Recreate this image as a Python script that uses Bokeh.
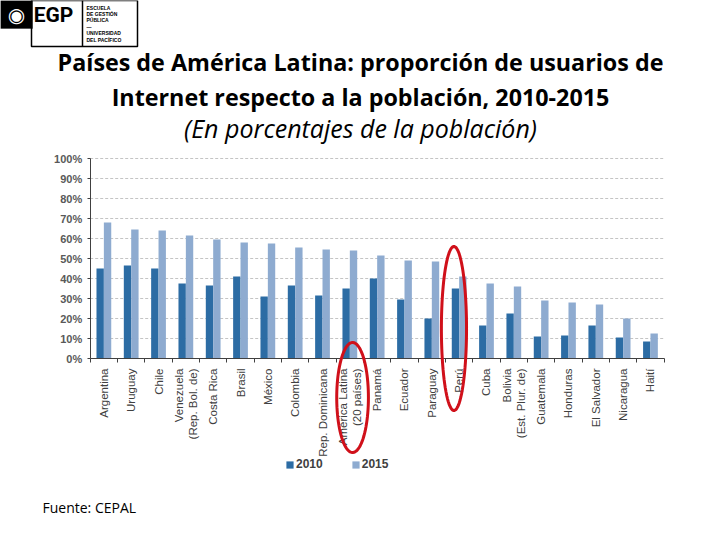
import numpy as np
from bokeh.plotting import figure
from bokeh.models import (Range1d, FixedTicker, PrintfTickFormatter, Label, Legend, LegendItem,
                          BoxAnnotation, PolyAnnotation, ColumnDataSource, LinearAxis)
from bokeh.embed import file_html
from bokeh.resources import INLINE

# ---------------- data ----------------
countries = ["Argentina", "Uruguay", "Chile", "Venezuela\n(Rep. Bol. de)", "Costa Rica", "Brasil",
             "México", "Colombia", "Rep. Dominicana", "América Latina\n(20 países)", "Panamá",
             "Ecuador", "Paraguay", "Perú", "Cuba", "Bolivia\n(Est. Plur. de)", "Guatemala",
             "Honduras", "El Salvador", "Nicaragua", "Haití"]
v2010 = [45, 46.5, 45, 37.5, 36.5, 41, 31, 36.5, 31.5, 35, 40, 29.5, 20, 35, 16.5, 22.5, 11, 11.5, 16.5, 10.5, 8.5]
v2015 = [68, 64.5, 64, 61.5, 59.5, 58, 57.5, 55.5, 54.5, 54, 51.5, 49, 48.5, 41, 37.5, 36, 29, 28, 27, 20, 12.5]
series = ["2010", "2015"]
y_ticks = [0, 10, 20, 30, 40, 50, 60, 70, 80, 90, 100]

title1 = "Países de América Latina: proporción de usuarios de"
title2 = "Internet respecto a la población, 2010-2015"
subtitle = "(En porcentajes de la población)"
source_note = "Fuente: CEPAL"
logo_name = "EGP"
logo_lines = ["ESCUELA", "DE GESTIÓN", "PÚBLICA", "—", "UNIVERSIDAD", "DEL PACÍFICO"]

# highlighted categories (red ellipses): category, y-top, y-bottom (in % units), x shift, half width
highlights = [("América Latina\n(20 países)", 8, -47, 0.1, 0.58),
              ("Perú", 56, -26, -0.19, 0.46)]

C2010 = "#2c6ca4"
C2015 = "#8eabd0"
AXIS = "#404040"
TXT = "#404040"

W, H = 720, 540
n = len(countries)
# layout: chart area on the canvas (pixels)
X0, CAT_W = 89.7, 27.33      # left edge of the plot area, width of one category
Y0, PCT_H = 358.0, 2.0       # baseline (0 %) and pixels per percent
x_range = Range1d(-X0 / CAT_W, (W - X0) / CAT_W)
y_range = Range1d(-(H - Y0) / PCT_H, Y0 / PCT_H)

centers = [i + 0.5 for i in range(n)]
bw = 0.27

p = figure(width=W, height=H, output_backend="svg", toolbar_location=None,
           x_range=x_range, y_range=y_range, x_axis_type=None, y_axis_type=None,
           min_border=0, min_border_left=0, min_border_right=0, min_border_top=0, min_border_bottom=0,
           title=None)
p.outline_line_color = None
p.background_fill_color = "white"
p.border_fill_color = "white"
p.xgrid.visible = False
p.ygrid.visible = False

# dashed horizontal grid lines (from tick list)
grid_y = y_ticks[1:]
p.segment(x0=[0] * len(grid_y), x1=[n] * len(grid_y), y0=grid_y, y1=grid_y,
          line_color="#c4c4c4", line_dash="3 2", line_width=1)

src = ColumnDataSource(dict(x=centers, v2010=v2010, v2015=v2015,
                            x1=[c - bw / 2 for c in centers], x2=[c + bw / 2 for c in centers]))
r1 = p.vbar(x="x1", top="v2010", width=bw, bottom=0, source=src, fill_color=C2010, line_color=None)
r2 = p.vbar(x="x2", top="v2015", width=bw, bottom=0, source=src, fill_color=C2015, line_color=None)

# x axis, fixed at 0 %
xa = LinearAxis(fixed_location=0, bounds=(0, n))
xa.ticker = FixedTicker(ticks=centers, minor_ticks=list(range(n + 1)))
xa.major_label_overrides = {c: lab for c, lab in zip(centers, countries)}
xa.major_label_orientation = np.pi / 2
xa.major_tick_out = 0
xa.major_tick_in = 0
xa.minor_tick_out = 4
xa.minor_tick_in = 0
xa.minor_tick_line_color = AXIS
xa.axis_line_color = AXIS
xa.major_label_standoff = 6
xa.major_label_text_font = "Liberation Sans"
xa.major_label_text_font_size = "11.5px"
xa.major_label_text_color = TXT
p.add_layout(xa, "below")

# y axis, fixed at the first category edge
ya = LinearAxis(fixed_location=0, bounds=(0, 100))
ya.ticker = FixedTicker(ticks=y_ticks)
ya.formatter = PrintfTickFormatter(format="%d%%")
ya.minor_tick_line_color = None
ya.major_tick_out = 3
ya.major_tick_in = 0
ya.major_tick_line_color = AXIS
ya.axis_line_color = AXIS
ya.major_label_standoff = 5
ya.major_label_text_font = "Liberation Sans"
ya.major_label_text_font_size = "11px"
ya.major_label_text_font_style = "bold"
ya.major_label_text_color = "#595959"
p.add_layout(ya, "left")

# legend
legend = Legend(items=[LegendItem(label=series[0], renderers=[r1]),
                       LegendItem(label=series[1], renderers=[r2])],
                orientation="horizontal", location=(285, H - 471),
                glyph_width=9, glyph_height=9, label_standoff=2, spacing=28,
                padding=0, margin=0, border_line_color=None, background_fill_alpha=0,
                label_text_font="Liberation Sans", label_text_font_size="12px",
                label_text_font_style="bold", label_text_color=TXT, label_height=12)
p.add_layout(legend, "center")

# red ellipses
for cat, ytop, ybot, dx, hw in highlights:
    cx = countries.index(cat) + 0.5 + dx
    cy = (ytop + ybot) / 2
    hy = (ytop - ybot) / 2
    t = np.linspace(0, 2 * np.pi, 90)
    p.add_layout(PolyAnnotation(xs=list(cx + hw * np.cos(t)), ys=list(cy + hy * np.sin(t)),
                                fill_alpha=0, line_color="#d0101a", line_alpha=1, line_width=3))

# texts (screen units: frame == canvas, y measured from the bottom)
def lab(text, px, py, size, style="bold", align="center", font="Open Sans", color="black"):
    p.add_layout(Label(x=px, y=H - py, x_units="screen", y_units="screen", text=text,
                       text_font=font, text_font_size=size, text_font_style=style,
                       text_align=align, text_baseline="middle", text_color=color))

lab(title1, 360, 61, "23.3px")
lab(title2, 360, 96, "23.3px")
lab(subtitle, 360, 127, "25px", style="italic")
lab(source_note, 42, 506.5, "14px", style="normal", align="left")

# logo
def box(l, r, t, b, **kw):
    p.add_layout(BoxAnnotation(left=l, right=r, top=H - t, bottom=H - b,
                               left_units="screen", right_units="screen",
                               top_units="screen", bottom_units="screen", **kw))

box(0, 32, 0, 28, fill_color="black", fill_alpha=1, line_color="black")
box(31, 137, 0, 46, fill_alpha=0, line_color="black", line_alpha=1, line_width=1.5)
box(82, 82, 0, 46, fill_alpha=0, line_color="black", line_alpha=1, line_width=1.5)
lab("◉", 16, 14, "20px", style="normal", font="DejaVu Sans", color="white")
lab(logo_name, 53, 14, "21px", style="bold", font="Roboto")
for i, t in enumerate(logo_lines):
    lab(t, 86, 7 + i * 6.4, "5px", style="bold", align="left", font="Liberation Sans")

open("out.html", "w").write(file_html(p, INLINE))
